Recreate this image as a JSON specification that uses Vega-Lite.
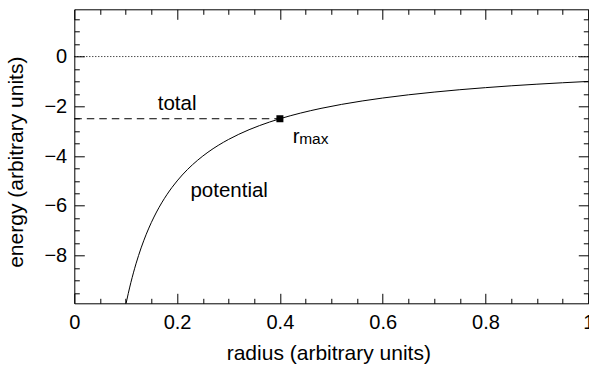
{
  "$schema": "https://vega.github.io/schema/vega-lite/v6.json",
  "width": 514,
  "height": 294,
  "autosize": "none",
  "padding": {"left": 74.3, "top": 9.3, "right": 0.7, "bottom": 61.7},
  "config": {
    "font": "Liberation Sans",
    "view": {"stroke": "#000", "strokeWidth": 1},
    "axis": {
      "domain": false,
      "grid": false,
      "labelFont": "Liberation Sans",
      "labelFontSize": 20,
      "labelColor": "#000",
      "labelOverlap": false,
      "labelFlush": false,
      "tickColor": "#000",
      "tickWidth": 1,
      "titleFont": "Liberation Sans",
      "titleFontSize": 21,
      "titleFontWeight": "normal",
      "titleColor": "#000"
    }
  },
  "datasets": {
    "curve": [
      {"r": 0.1, "e": -10},
      {"r": 0.105, "e": -9.524},
      {"r": 0.11, "e": -9.091},
      {"r": 0.115, "e": -8.696},
      {"r": 0.12, "e": -8.333},
      {"r": 0.13, "e": -7.692},
      {"r": 0.14, "e": -7.143},
      {"r": 0.15, "e": -6.667},
      {"r": 0.16, "e": -6.25},
      {"r": 0.17, "e": -5.882},
      {"r": 0.18, "e": -5.556},
      {"r": 0.19, "e": -5.263},
      {"r": 0.2, "e": -5},
      {"r": 0.22, "e": -4.545},
      {"r": 0.24, "e": -4.167},
      {"r": 0.26, "e": -3.846},
      {"r": 0.28, "e": -3.571},
      {"r": 0.3, "e": -3.333},
      {"r": 0.32, "e": -3.125},
      {"r": 0.34, "e": -2.941},
      {"r": 0.36, "e": -2.778},
      {"r": 0.38, "e": -2.632},
      {"r": 0.4, "e": -2.5},
      {"r": 0.44, "e": -2.273},
      {"r": 0.48, "e": -2.083},
      {"r": 0.52, "e": -1.923},
      {"r": 0.56, "e": -1.786},
      {"r": 0.6, "e": -1.667},
      {"r": 0.65, "e": -1.538},
      {"r": 0.7, "e": -1.429},
      {"r": 0.75, "e": -1.333},
      {"r": 0.8, "e": -1.25},
      {"r": 0.85, "e": -1.176},
      {"r": 0.9, "e": -1.111},
      {"r": 0.95, "e": -1.053},
      {"r": 1, "e": -1}
    ],
    "zeroLine": [{"r0": 0, "r1": 1, "e": 0}],
    "totalLine": [{"r0": 0, "r1": 0.4, "e": -2.5}],
    "rmax": [{"r": 0.4, "e": -2.5}],
    "labels": [
      {"r": 0.2, "e": -2.15, "text": "total"},
      {"r": 0.3013, "e": -5.63, "text": "potential"}
    ],
    "rSymbol": [{"r": 0.4249, "e": -3.47, "text": "r"}],
    "subscript": [{"r": 0.4375, "e": -3.5, "text": "max"}]
  },
  "resolve": {"axis": {"x": "independent", "y": "independent"}},
  "layer": [
    {
      "data": {"name": "curve"},
      "mark": {"type": "line", "color": "#000", "strokeWidth": 1, "clip": true, "interpolate": "monotone"},
      "encoding": {
        "x": {
          "field": "r", "type": "quantitative",
          "scale": {"domain": [0, 1], "nice": false, "zero": false},
          "axis": {
            "orient": "bottom",
            "values": [0, 0.05, 0.1, 0.15, 0.2, 0.25, 0.3, 0.35, 0.4, 0.45, 0.5, 0.55, 0.6, 0.65, 0.7, 0.75, 0.8, 0.85, 0.9, 0.95, 1],
            "format": "~g",
            "labelExpr": "abs(datum.value*5-round(datum.value*5))<0.001 ? datum.label : ''",
            "tickSize": {"condition": {"test": "abs(datum.value*5-round(datum.value*5))<0.001", "value": -10}, "value": -5},
            "labelPadding": 19.5,
            "title": "radius (arbitrary units)",
            "titleX": 254,
            "titleY": 56.5,
            "titleAlign": "center",
            "titleBaseline": "alphabetic"
          }
        },
        "y": {
          "field": "e", "type": "quantitative",
          "scale": {"domain": [-9.92, 1.9], "nice": false, "zero": false},
          "axis": {
            "orient": "left",
            "values": [-9.5, -9, -8.5, -8, -7.5, -7, -6.5, -6, -5.5, -5, -4.5, -4, -3.5, -3, -2.5, -2, -1.5, -1, -0.5, 0, 0.5, 1, 1.5],
            "format": "~g",
            "labelExpr": "abs(datum.value/2-round(datum.value/2))<0.001 ? datum.label : ''",
            "tickSize": {"condition": {"test": "abs(datum.value/2-round(datum.value/2))<0.001", "value": -10}, "value": -5},
            "labelPadding": 17.6,
            "title": "energy (arbitrary units)",
            "titleAngle": -90,
            "titleX": -51.7,
            "titleY": 152.4,
            "titleAlign": "center",
            "titleBaseline": "alphabetic"
          }
        }
      }
    },
    {
      "data": {"name": "zeroLine"},
      "mark": {"type": "rule", "color": "#000", "strokeWidth": 1, "strokeDash": [1, 2]},
      "encoding": {
        "x": {
          "field": "r0", "type": "quantitative",
          "scale": {"domain": [0, 1], "nice": false, "zero": false},
          "axis": {
            "orient": "top",
            "values": [0, 0.05, 0.1, 0.15, 0.2, 0.25, 0.3, 0.35, 0.4, 0.45, 0.5, 0.55, 0.6, 0.65, 0.7, 0.75, 0.8, 0.85, 0.9, 0.95, 1],
            "labels": false,
            "title": null,
            "tickSize": {"condition": {"test": "abs(datum.value*5-round(datum.value*5))<0.001", "value": -10}, "value": -5}
          }
        },
        "x2": {"field": "r1"},
        "y": {
          "field": "e", "type": "quantitative",
          "scale": {"domain": [-9.92, 1.9], "nice": false, "zero": false},
          "axis": {
            "orient": "right",
            "values": [-9.5, -9, -8.5, -8, -7.5, -7, -6.5, -6, -5.5, -5, -4.5, -4, -3.5, -3, -2.5, -2, -1.5, -1, -0.5, 0, 0.5, 1, 1.5],
            "labels": false,
            "title": null,
            "tickSize": {"condition": {"test": "abs(datum.value/2-round(datum.value/2))<0.001", "value": -10}, "value": -5}
          }
        }
      }
    },
    {
      "data": {"name": "totalLine"},
      "mark": {"type": "rule", "color": "#000", "strokeWidth": 1, "strokeDash": [7.5, 5]},
      "encoding": {
        "x": {"field": "r0", "type": "quantitative", "scale": {"domain": [0, 1], "nice": false, "zero": false}, "axis": null},
        "x2": {"field": "r1"},
        "y": {"field": "e", "type": "quantitative", "scale": {"domain": [-9.92, 1.9], "nice": false, "zero": false}, "axis": null}
      }
    },
    {
      "data": {"name": "rmax"},
      "mark": {"type": "point", "shape": "square", "size": 49, "filled": true, "color": "#000", "opacity": 1, "strokeWidth": 0},
      "encoding": {
        "x": {"field": "r", "type": "quantitative", "scale": {"domain": [0, 1], "nice": false, "zero": false}, "axis": null},
        "y": {"field": "e", "type": "quantitative", "scale": {"domain": [-9.92, 1.9], "nice": false, "zero": false}, "axis": null}
      }
    },
    {
      "data": {"name": "labels"},
      "mark": {"type": "text", "font": "Liberation Sans", "fontSize": 20.5, "color": "#000", "baseline": "alphabetic", "align": "center"},
      "encoding": {
        "x": {"field": "r", "type": "quantitative", "scale": {"domain": [0, 1], "nice": false, "zero": false}, "axis": null},
        "y": {"field": "e", "type": "quantitative", "scale": {"domain": [-9.92, 1.9], "nice": false, "zero": false}, "axis": null},
        "text": {"field": "text"}
      }
    },
    {
      "data": {"name": "rSymbol"},
      "mark": {"type": "text", "font": "Liberation Sans", "fontSize": 20.5, "color": "#000", "baseline": "alphabetic", "align": "left"},
      "encoding": {
        "x": {"field": "r", "type": "quantitative", "scale": {"domain": [0, 1], "nice": false, "zero": false}, "axis": null},
        "y": {"field": "e", "type": "quantitative", "scale": {"domain": [-9.92, 1.9], "nice": false, "zero": false}, "axis": null},
        "text": {"field": "text"}
      }
    },
    {
      "data": {"name": "subscript"},
      "mark": {"type": "text", "font": "Liberation Sans", "fontSize": 15.5, "color": "#000", "baseline": "alphabetic", "align": "left"},
      "encoding": {
        "x": {"field": "r", "type": "quantitative", "scale": {"domain": [0, 1], "nice": false, "zero": false}, "axis": null},
        "y": {"field": "e", "type": "quantitative", "scale": {"domain": [-9.92, 1.9], "nice": false, "zero": false}, "axis": null},
        "text": {"field": "text"}
      }
    }
  ]
}
